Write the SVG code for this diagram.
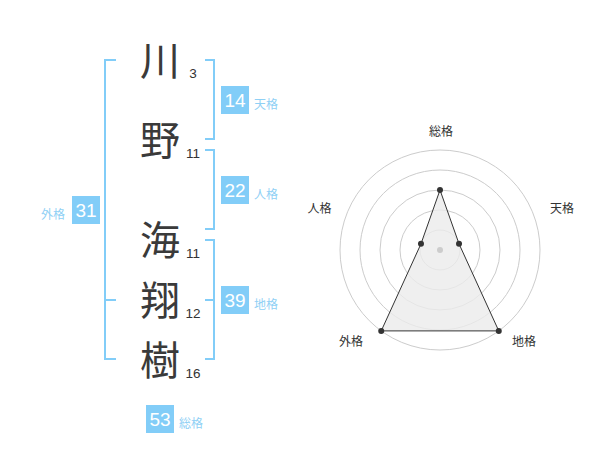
<svg xmlns="http://www.w3.org/2000/svg" width="600" height="470" viewBox="0 0 600 470">
<style>
.k{font-family:"Noto Sans CJK JP","Noto Sans CJK SC",sans-serif;font-size:40px;fill:#3a3a3a;text-anchor:middle}
.n{font-family:"Liberation Sans",Arial,sans-serif;font-size:13.5px;fill:#333;text-anchor:middle}
.br{fill:none;stroke:#82cdf8;stroke-width:2}
.box{fill:#82cdf8}
.bn{font-family:"Liberation Sans",Arial,sans-serif;font-size:19px;fill:#fff;text-anchor:middle}
.lb{font-family:"Noto Sans CJK JP","Noto Sans CJK SC",sans-serif;font-size:12px;fill:#8fd0f5}
.rl{font-family:"Noto Sans CJK JP","Noto Sans CJK SC",sans-serif;font-size:12px;fill:#333;text-anchor:middle}
.ring{fill:none;stroke:#ccc;stroke-width:1}
.pt{fill:#333}
</style>
<rect width="600" height="470" fill="#fff"/>
<g id="connectors">
<path class="br" d="M116,60 H105 V359 H116 M105,300 H116"/>
<path class="br" d="M205,60 H214 V139 H205"/>
<path class="br" d="M205,150 H214 V229 H205"/>
<path class="br" d="M205,240 H214 V359 H205 M205,300 H214"/>
</g>
<g id="char-kawa"><text class="k" x="160" y="75">川</text><text class="n" x="193" y="78">3</text></g>
<g id="char-no"><text class="k" x="160" y="155">野</text><text class="n" x="193" y="158">11</text></g>
<g id="char-umi"><text class="k" x="160" y="255">海</text><text class="n" x="193" y="258">11</text></g>
<g id="char-sho"><text class="k" x="160" y="315">翔</text><text class="n" x="193" y="318">12</text></g>
<g id="char-ki"><text class="k" x="160" y="375">樹</text><text class="n" x="193" y="378">16</text></g>
<g id="tenkaku"><rect class="box" x="221" y="86" width="28" height="28"/><text class="bn" x="235" y="107">14</text><text class="lb" x="254" y="109">天格</text></g>
<g id="jinkaku"><rect class="box" x="221" y="176" width="28" height="28"/><text class="bn" x="235" y="197">22</text><text class="lb" x="254" y="199">人格</text></g>
<g id="chikaku"><rect class="box" x="221" y="286" width="28" height="28"/><text class="bn" x="235" y="307">39</text><text class="lb" x="254" y="309">地格</text></g>
<g id="gaikaku"><rect class="box" x="72" y="196" width="28" height="28"/><text class="bn" x="86" y="217">31</text><text class="lb" x="41" y="219">外格</text></g>
<g id="sokaku"><rect class="box" x="146" y="405" width="28" height="28"/><text class="bn" x="160" y="426">53</text><text class="lb" x="179" y="428">総格</text></g>
<g id="radar">
<circle class="ring" cx="440" cy="250" r="20"/>
<circle class="ring" cx="440" cy="250" r="40"/>
<circle class="ring" cx="440" cy="250" r="60"/>
<circle class="ring" cx="440" cy="250" r="80"/>
<circle class="ring" cx="440" cy="250" r="100"/>
<polygon points="440,190 459.02,243.82 498.78,330.9 381.22,330.9 420.98,243.82" fill="#ebebeb" fill-opacity="0.8" stroke="#333" stroke-width="1"/>
<circle cx="440" cy="250" r="3" fill="#ccc"/>
<circle class="pt" cx="440" cy="190" r="3"/>
<circle class="pt" cx="459.02" cy="243.82" r="3"/>
<circle class="pt" cx="498.78" cy="330.9" r="3"/>
<circle class="pt" cx="381.22" cy="330.9" r="3"/>
<circle class="pt" cx="420.98" cy="243.82" r="3"/>
<text class="rl" x="441" y="136">総格</text>
<text class="rl" x="562" y="213">天格</text>
<text class="rl" x="319.5" y="213">人格</text>
<text class="rl" x="351" y="346">外格</text>
<text class="rl" x="524" y="346">地格</text>
</g>
</svg>
